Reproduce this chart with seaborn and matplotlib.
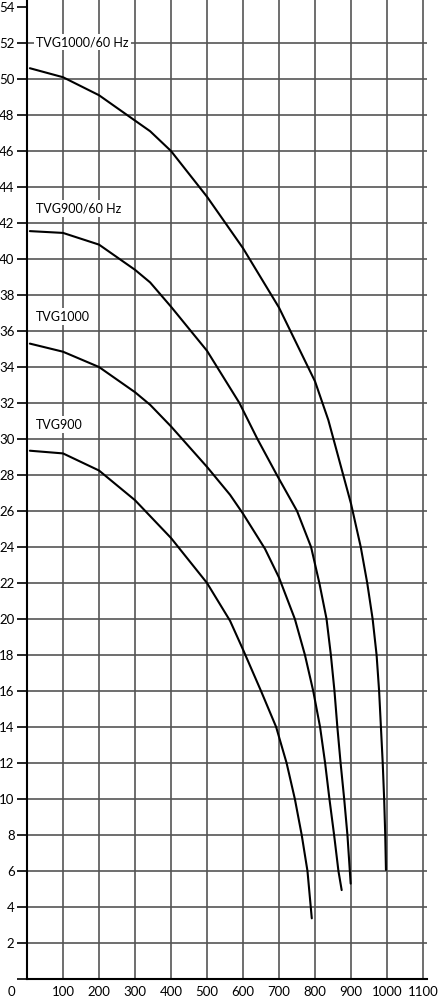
import numpy as np
import pandas as pd
import matplotlib
matplotlib.use('Agg')
import matplotlib.pyplot as plt
import matplotlib.transforms as mtransforms
import seaborn as sns

# curves (flow vs head)
tvg1000_60_x = [8, 100, 200, 278, 342, 400, 500, 600, 700, 800, 837, 900, 927, 945, 960, 971, 978, 983, 988, 992, 995, 997]
tvg1000_60_y = [50.6, 50.1, 49.1, 48.0, 47.1, 46.0, 43.46, 40.6, 37.3, 33.2, 31.05, 26.4, 24, 22, 20, 18, 16, 14, 12, 10, 8, 6.06]

tvg900_60_x = [8, 100, 200, 300, 342, 400, 500, 590, 640, 694, 750, 789, 812, 832, 844, 854, 862, 871, 881, 890, 899]
tvg900_60_y = [41.55, 41.45, 40.8, 39.4, 38.7, 37.35, 34.9, 32, 30, 28, 26, 24, 22, 20, 18, 16, 14, 12, 10, 8, 5.3]

tvg1000_x = [8, 100, 200, 300, 342, 400, 500, 564, 600, 661, 700, 744, 772, 795, 814, 828, 840, 853, 865, 874]
tvg1000_y = [35.3, 34.85, 34.0, 32.6, 31.9, 30.7, 28.45, 26.9, 25.85, 23.9, 22.3, 20, 18, 16, 14, 12, 10, 8, 6, 4.94]

tvg900_x = [8, 100, 200, 300, 400, 500, 564, 600, 650, 692, 721, 744, 763, 779, 791]
tvg900_y = [29.35, 29.2, 28.25, 26.6, 24.5, 22.0, 19.9, 18.3, 16, 14, 12, 10, 8, 6, 3.37]

curve_names = ['TVG1000/60 Hz', 'TVG900/60 Hz', 'TVG1000', 'TVG900']
label_x = [25, 25, 25, 25]
label_y = [52.05, 42.8, 36.8, 30.8]

x_ticks = list(range(0, 1101, 100))
y_ticks = list(range(0, 55, 2))

sns.set_theme(style='white')
plt.rcParams['font.family'] = ['Lato', 'DejaVu Sans']

fig = plt.figure(figsize=(4.38, 10), dpi=100)
ax = fig.add_axes([27 / 438, 0.021, 400 / 438, 0.979])

curves = [(tvg1000_60_x, tvg1000_60_y), (tvg900_60_x, tvg900_60_y),
          (tvg1000_x, tvg1000_y), (tvg900_x, tvg900_y)]
for (cx, cy) in curves:
    df = pd.DataFrame({'Q': cx, 'H': cy})
    sns.lineplot(data=df, x='Q', y='H', color='black', lw=1.5, sort=False,
                 estimator=None, ax=ax, zorder=3)

for name, lx, ly in zip(curve_names, label_x, label_y):
    ax.text(lx, ly, name, fontsize=9, color='black', ha='left', va='center', zorder=4,
            bbox=dict(facecolor='white', edgecolor='none', pad=1.5))

ax.set_xlim(0, 1111)
ax.set_ylim(0, 54.39)
ax.set_xticks(x_ticks)
ax.set_xticklabels([str(v) for v in x_ticks])
ax.set_yticks(y_ticks)
ax.set_yticklabels(['' if v == 0 else str(v) for v in y_ticks])
ax.set_xticks([0], minor=True)

ax.grid(True, which='major', color='#555555', lw=1.2)
ax.get_xgridlines()[0].set_visible(False)
ax.get_ygridlines()[0].set_visible(False)
ax.get_ygridlines()[-1].set_visible(False)

ax.tick_params(axis='x', which='major', length=0, pad=5, labelsize=9.5, colors='black')
ax.tick_params(axis='x', which='minor', length=6, width=1.5, color='black', bottom=True)
ax.tick_params(axis='y', which='major', length=7, width=1.2, pad=2, labelsize=9.5,
               color='black', labelcolor='black', left=True)

# the "0" sits left of the origin
offset = mtransforms.ScaledTranslation(-16 / 100, 0, fig.dpi_scale_trans)
lab0 = ax.get_xticklabels()[0]
lab0.set_transform(lab0.get_transform() + offset)

for side in ['top', 'right']:
    ax.spines[side].set_visible(False)
for side in ['left', 'bottom']:
    ax.spines[side].set_color('black')
    ax.spines[side].set_linewidth(1.5)

ax.set_xlabel('')
ax.set_ylabel('')

fig.savefig('out.png', dpi=100)
